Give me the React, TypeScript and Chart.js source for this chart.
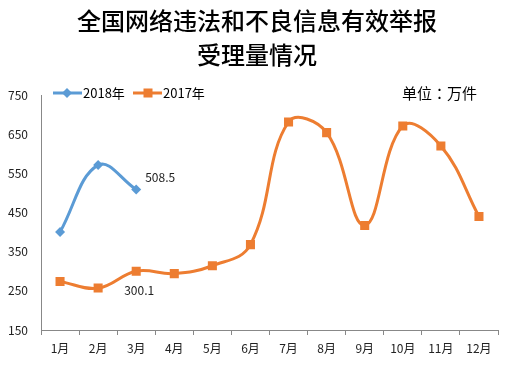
import React, { useEffect, useRef } from "react";
import { Chart, registerables } from "chart.js";

Chart.register(...registerables);

const months = ["1月", "2月", "3月", "4月", "5月", "6月", "7月", "8月", "9月", "10月", "11月", "12月"];
const values2018 = [400, 571, 508.5];
const values2017 = [274, 257, 300.1, 294, 314, 368, 681, 654, 417, 671, 620, 440];
const yTicks = [150, 250, 350, 450, 550, 650, 750];
const titleLines = ["全国网络违法和不良信息有效举报", "受理量情况"];
const unitText = "单位：万件";
const series2018Name = "2018年";
const series2017Name = "2017年";

const BLUE = "#5B9BD5";
const ORANGE = "#ED7D31";
const FONT = '"Noto Sans CJK SC", "Noto Sans", sans-serif';
const FONT_TC = '"Noto Sans CJK TC", "Noto Sans CJK SC", sans-serif';

export default function App() {
  const ref = useRef<HTMLCanvasElement | null>(null);

  useEffect(() => {
    const canvas = ref.current;
    if (!canvas) return;

    const decor = {
      id: "decor",
      afterDraw(chart: any) {
        const ctx = chart.ctx as CanvasRenderingContext2D;
        ctx.save();
        // title
        ctx.fillStyle = "#000";
        ctx.textAlign = "center";
        ctx.textBaseline = "middle";
        ctx.font = `500 24px ${FONT}`;
        ctx.fillText(titleLines[0], 257, 21);
        ctx.fillText(titleLines[1], 257, 55);

        // legend
        const ly = 93;
        ctx.lineWidth = 3;
        ctx.strokeStyle = BLUE;
        ctx.beginPath();
        ctx.moveTo(53, ly);
        ctx.lineTo(82, ly);
        ctx.stroke();
        ctx.fillStyle = BLUE;
        ctx.beginPath();
        ctx.moveTo(67, ly - 5);
        ctx.lineTo(72, ly);
        ctx.lineTo(67, ly + 5);
        ctx.lineTo(62, ly);
        ctx.closePath();
        ctx.fill();

        ctx.strokeStyle = ORANGE;
        ctx.beginPath();
        ctx.moveTo(133, ly);
        ctx.lineTo(162, ly);
        ctx.stroke();
        ctx.fillStyle = ORANGE;
        ctx.fillRect(143.5, ly - 4.5, 9, 9);

        ctx.fillStyle = "#000";
        ctx.textAlign = "left";
        ctx.font = `13px ${FONT}`;
        ctx.fillText(series2018Name, 83, ly);
        ctx.fillText(series2017Name, 163, ly);

        ctx.font = `15px ${FONT_TC}`;
        ctx.fillText(unitText, 402, ly);

        // data labels
        const xs = chart.scales.x;
        const ys = chart.scales.y;
        ctx.font = `12px ${FONT}`;
        ctx.fillStyle = "#222";
        const i = 2;
        ctx.textAlign = "left";
        ctx.fillText(String(values2018[i]), xs.getPixelForValue(i) + 9, ys.getPixelForValue(values2018[i]) - 12);
        ctx.fillText(String(values2017[i]), xs.getPixelForValue(i) - 12, ys.getPixelForValue(values2017[i]) + 19);
        ctx.restore();
      },
    };

    const chart = new Chart(canvas, {
      type: "line",
      data: {
        labels: months,
        datasets: [
          {
            label: series2018Name,
            data: values2018,
            borderColor: BLUE,
            backgroundColor: BLUE,
            borderWidth: 3,
            tension: 0.4,
            pointStyle: "rectRot",
            pointRadius: 5,
            pointBorderWidth: 0,
          },
          {
            label: series2017Name,
            data: values2017,
            borderColor: ORANGE,
            backgroundColor: ORANGE,
            borderWidth: 3,
            tension: 0.4,
            pointStyle: "rect",
            pointRadius: 6.4,
            pointBorderWidth: 0,
          },
        ],
      },
      options: {
        animation: false,
        responsive: false,
        layout: { padding: { top: 95, right: 16, left: 0, bottom: 0 } },
        plugins: {
          legend: { display: false },
          title: { display: false },
          tooltip: { enabled: false },
        },
        scales: {
          x: {
            offset: true,
            grid: {
              display: true,
              offset: true,
              drawOnChartArea: false,
              drawTicks: true,
              tickLength: 5,
              color: "#888",
            },
            border: { display: true, color: "#888", width: 1 },
            ticks: { color: "#222", font: { family: FONT, size: 12 }, padding: 6, maxRotation: 0 },
            afterFit(scale: any) {
              scale.height = 38;
            },
          },
          y: {
            min: 150,
            max: 750,
            afterBuildTicks(scale: any) {
              scale.ticks = yTicks.map((v) => ({ value: v }));
            },
            grid: { display: false, drawTicks: false, tickLength: 0 },
            border: { display: true, color: "#888", width: 1 },
            ticks: { color: "#222", font: { family: FONT, size: 12 }, padding: 13 },
            afterFit(scale: any) {
              scale.width = 41;
            },
          },
        },
      },
      plugins: [decor],
    });

    return () => chart.destroy();
  }, []);

  return (
    <div style={{ position: "fixed", left: 0, top: 0, width: 514, height: 368, background: "#fff" }}>
      <canvas ref={ref} width={514} height={368} style={{ width: 514, height: 368 }} />
    </div>
  );
}
